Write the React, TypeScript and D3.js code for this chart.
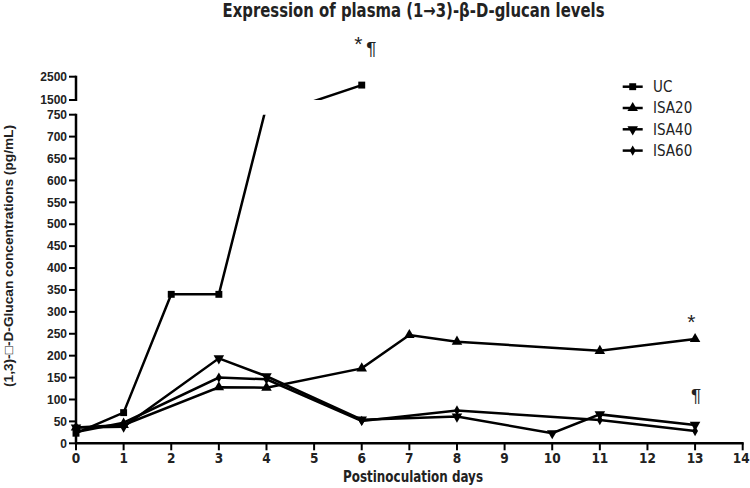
import React from "react";
import * as d3 from "d3";

const titleText = "Expression of plasma (1\u21923)-\u03b2-D-glucan levels";
const xLabel = "Postinoculation days";
const yLabel = "(1,3)-\u25a1-D-Glucan concentrations (pg/mL)";

const seriesNames = ["UC", "ISA20", "ISA40", "ISA60"];
const ucDays = [0, 1, 2, 3, 4, 6];
const ucValues = [23, 70, 340, 340, 770, 2140];
const isa20Days = [0, 1, 3, 4, 6, 7, 8, 11, 13];
const isa20Values = [36, 42, 128, 127, 171, 247, 232, 211, 238];
const isa40Days = [0, 1, 3, 4, 6, 8, 10, 11, 13];
const isa40Values = [36, 38, 194, 153, 54, 61, 23, 66, 42];
const isa60Days = [0, 1, 3, 4, 6, 8, 11, 13];
const isa60Values = [26, 47, 150, 146, 51, 75, 53, 28];

const xTicks = d3.range(0, 15);
const yLowTicks = d3.range(0, 751, 50);
const yHighTicks = [1500, 2500];

const annotations = [
  { text: "*", day: 5.93, value: 3600, seg: "hi", size: 21 },
  { text: "\u00b6", day: 6.2, value: 3430, seg: "hi", size: 19 },
  { text: "*", day: 12.92, value: 262, seg: "lo", size: 21 },
  { text: "\u00b6", day: 13.02, value: 95, seg: "lo", size: 19 },
];

const symbolTypes = [d3.symbolSquare, d3.symbolTriangle, d3.symbolTriangle, d3.symbolDiamond];
const symbolRot = [0, 0, 180, 0];
const symbolSizes = [48, 48, 48, 30];

export default function App() {
  const W = 750, H = 488;
  const x = d3.scaleLinear().domain([0, 14]).range([76, 742.7]);
  const yLo = d3.scaleLinear().domain([0, 750]).range([443.3, 114.7]);
  const yHi = d3.scaleLinear().domain([1500, 2500]).range([100, 76.7]);

  const series = [
    { name: seriesNames[0], days: ucDays, values: ucValues },
    { name: seriesNames[1], days: isa20Days, values: isa20Values },
    { name: seriesNames[2], days: isa40Days, values: isa40Values },
    { name: seriesNames[3], days: isa60Days, values: isa60Values },
  ];

  const font = "'Liberation Sans', Arial, sans-serif";
  const narrow = "'Liberation Sans Narrow', 'DejaVu Sans Condensed', 'Liberation Sans', Arial, sans-serif";

  const lineLo = d3.line<[number, number]>().x(d => x(d[0])).y(d => yLo(d[1]));
  const lineHi = d3.line<[number, number]>().x(d => x(d[0])).y(d => yHi(d[1]));

  return (
    <svg width={W} height={H} style={{ position: "absolute", left: 0, top: 0 }} fontFamily={font}>
      <defs>
        <clipPath id="clipLo"><rect x={70} y={114.7} width={690} height={340} /></clipPath>
        <clipPath id="clipHi"><rect x={70} y={0} width={690} height={100} /></clipPath>
      </defs>
      <rect width={W} height={H} fill="#fff" />
      <text x={222.5} y={16.5} fontFamily={narrow} fontWeight="bold" fontSize={19} fill="#222"
        textLength={382} lengthAdjust="spacingAndGlyphs">{titleText}</text>

      {/* lower y axis */}
      <line x1={76} x2={76} y1={yLo(750) - 1} y2={yLo(0) + 1} stroke="#000" strokeWidth={2.5} />
      {yLowTicks.map(t => (
        <g key={"yl" + t}>
          <line x1={69} x2={76} y1={yLo(t)} y2={yLo(t)} stroke="#000" strokeWidth={2} />
          <text x={67} y={yLo(t)} dy="0.35em" textAnchor="end" fontWeight="bold" fontSize={12} fill="#222">{t}</text>
        </g>
      ))}
      {/* upper y axis */}
      <line x1={76} x2={76} y1={yHi(2500) - 1} y2={yHi(1500) + 1} stroke="#000" strokeWidth={2.5} />
      {yHighTicks.map(t => (
        <g key={"yh" + t}>
          <line x1={69} x2={76} y1={yHi(t)} y2={yHi(t)} stroke="#000" strokeWidth={2} />
          <text x={67} y={yHi(t)} dy="0.35em" textAnchor="end" fontWeight="bold" fontSize={12} fill="#222">{t}</text>
        </g>
      ))}
      {/* x axis */}
      <line x1={75} x2={x(14) + 1} y1={yLo(0)} y2={yLo(0)} stroke="#000" strokeWidth={2.5} />
      {xTicks.map(t => (
        <g key={"x" + t}>
          <line x1={x(t)} x2={x(t)} y1={yLo(0)} y2={yLo(0) + 7} stroke="#000" strokeWidth={2} />
          <text x={t === 14 ? x(t) - 1.5 : x(t)} y={yLo(0) + 20} textAnchor="middle" fontFamily={narrow} fontWeight="bold" fontSize={13.5} fill="#222">{t}</text>
        </g>
      ))}
      <text x={343} y={482} fontFamily={narrow} fontWeight="bold" fontSize={15.5} fill="#222"
        textLength={140} lengthAdjust="spacingAndGlyphs">{xLabel}</text>
      <text transform="translate(13,387) rotate(-90)" fontWeight="bold" fontSize={13.5} fill="#222"
        textLength={262} lengthAdjust="spacingAndGlyphs">{yLabel}</text>

      {series.map((s, i) => {
        const pts = s.days.map((d, j) => [d, s.values[j]] as [number, number]);
        return (
          <g key={s.name}>
            <path d={lineLo(pts) || ""} fill="none" stroke="#000" strokeWidth={2.5} clipPath="url(#clipLo)" />
            <path d={lineHi(pts) || ""} fill="none" stroke="#000" strokeWidth={2.5} clipPath="url(#clipHi)" />
            {pts.map((p, j) => {
              let cy: number | null = null;
              if (p[1] <= 750) cy = yLo(p[1]);
              else if (p[1] >= 1500) cy = yHi(p[1]);
              if (cy === null) return null;
              return (
                <path key={j} d={d3.symbol().type(symbolTypes[i]).size(symbolSizes[i])() || ""}
                  transform={`translate(${x(p[0])},${cy}) rotate(${symbolRot[i]})`} fill="#000" />
              );
            })}
          </g>
        );
      })}

      {annotations.map((a, i) => (
        <text key={"a" + i} x={x(a.day)} y={a.seg === "hi" ? yHi(a.value) : yLo(a.value)} textAnchor="middle"
          fontSize={a.size} fill="#222">{a.text}</text>
      ))}

      {/* legend */}
      {seriesNames.map((n, i) => {
        const ly = 86.7 + i * 21.3;
        return (
          <g key={"lg" + n}>
            <line x1={622.7} x2={642.7} y1={ly} y2={ly} stroke="#000" strokeWidth={2.5} />
            <path d={d3.symbol().type(symbolTypes[i]).size(symbolSizes[i])() || ""}
              transform={`translate(632.7,${ly}) rotate(${symbolRot[i]})`} fill="#000" />
            <text x={653} y={ly} dy="0.36em" fontFamily={narrow} fontSize={15} fill="#222">{n}</text>
          </g>
        );
      })}
    </svg>
  );
}
